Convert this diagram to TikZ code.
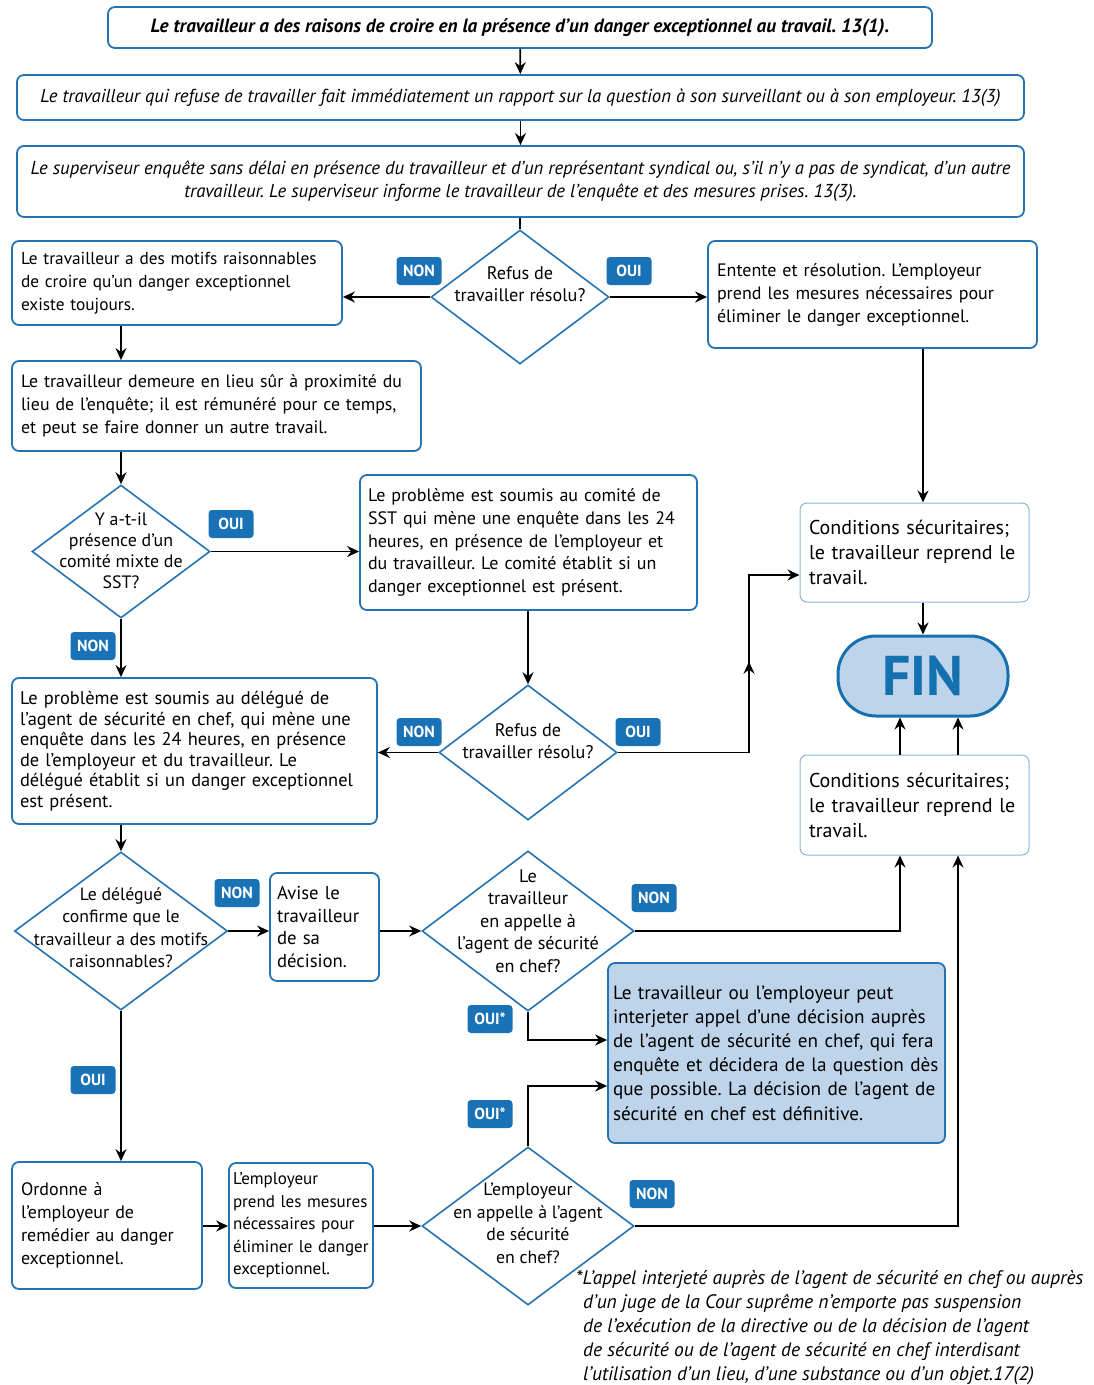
\documentclass[tikz,border=0pt]{standalone}
\usepackage{fontspec}
\setmainfont{PT Sans}
\usetikzlibrary{shapes.geometric,arrows.meta,calc,decorations.markings}
\definecolor{bblue}{HTML}{2673B3}
\definecolor{lblue}{HTML}{8BB4D8}
\definecolor{tblue}{HTML}{1A72B6}
\definecolor{fillb}{HTML}{BED4EA}
\definecolor{finb}{HTML}{1570B0}
\newcommand{\fs}[2]{\fontsize{#1}{#2}\selectfont}
\tikzset{
  box/.style={draw=bblue, line width=1.8pt, rounded corners=7pt, fill=white, inner ysep=0pt, inner xsep=9pt,
    font=\fs{18}{23}, align=left},
  cbox/.style={box, align=center, font=\fs{18.7}{23}\itshape},
  lbox/.style={box, draw=lblue, line width=1pt, font=\fs{20}{25}},
  dia/.style={diamond, draw=bblue, line width=1.6pt, inner sep=0pt, fill=white},
  dtext/.style={align=center, font=\fs{18}{22.5}, inner sep=0pt},
  tag/.style={fill=tblue, rounded corners=3.5pt, text=white, font=\fs{16}{16}\bfseries,
    minimum width=45pt, minimum height=28pt, inner sep=0pt},
  tip/.tip={Stealth[length=12pt,width=11pt,inset=4pt]},
  arr/.style={-tip, line width=1.7pt},
  ln/.style={line width=1.7pt},
}
\begin{document}
\frenchspacing
\begin{tikzpicture}[x=1pt,y=-1pt]
\useasboundingbox (0,0) rectangle (1094,1385);

% top boxes
\node[cbox, minimum width=824, minimum height=41, font=\fs{19.2}{23}\bfseries\itshape] (t1) at (520,27.5)
  {Le travailleur a des raisons de croire en la présence d’un danger exceptionnel au travail. 13(1).};
\node[cbox, minimum width=1007, minimum height=45] (t2) at (520.5,97.5)
  {Le travailleur qui refuse de travailler fait immédiatement un rapport sur la question à son surveillant ou à son employeur. 13(3)};
\node[cbox, minimum width=1007, minimum height=71] (t3) at (520.5,181.5)
  {Le superviseur enquête sans délai en présence du travailleur et d’un représentant syndical ou, s’il n’y a pas de syndicat, d’un autre\\
   travailleur. Le superviseur informe le travailleur de l’enquête et des mesures prises. 13(3).};

% diamonds
\node[dia, minimum width=178, minimum height=134] (d1) at (520,297) {};
\node[dtext, font=\fs{18.2}{22.5}] at (520,284) {Refus de\\travailler résolu?};
\node[dia, minimum width=178, minimum height=133] (d2) at (121,551.5) {};
\node[dtext, font=\fs{17.9}{21}] at (121,551) {Y a-t-il\\présence d’un\\comité mixte de\\SST?};
\node[dia, minimum width=178, minimum height=135] (d3) at (528,752.5) {};
\node[dtext, font=\fs{18.2}{22.5}] at (528,741) {Refus de\\travailler résolu?};
\node[dia, minimum width=213, minimum height=158] (d4) at (121,931) {};
\node[dtext, font=\fs{17.7}{22.5}] at (121,927.5) {Le délégué\\confirme que le\\travailleur a des motifs\\raisonnables?};
\node[dia, minimum width=212, minimum height=160] (d5) at (528,931) {};
\node[dtext, font=\fs{18.2}{22.5}] at (528,921) {Le\\travailleur\\en appelle à\\l’agent de sécurité\\en chef?};
\node[dia, minimum width=212, minimum height=158] (d6) at (528,1226) {};
\node[dtext, font=\fs{17.8}{22.5}] at (528,1223.5) {L’employeur\\en appelle à l’agent\\de sécurité\\en chef?};

% boxes
\node[box, minimum width=330, minimum height=84, text width=312, font=\fs{17.3}{23}] (A) at (177,283)
  {Le travailleur a des motifs raisonnables\\de croire qu’un danger exceptionnel\\existe toujours.};
\node[box, minimum width=329, minimum height=107, text width=311] (B) at (872.5,294.5)
  {Entente et résolution. L’employeur\\prend les mesures nécessaires pour\\éliminer le danger exceptionnel.};
\node[box, minimum width=409, minimum height=90, text width=391, font=\fs{17.8}{23}] (C) at (216.5,406)
  {Le travailleur demeure en lieu sûr à proximité du\\lieu de l’enquête; il est rémunéré pour ce temps,\\et peut se faire donner un autre travail.};
\node[box, minimum width=337, minimum height=135, text width=321, inner xsep=8pt, font=\fs{18}{22.8}] (D) at (528.5,542.5)
  {Le problème est soumis au comité de\\SST qui mène une enquête dans les 24\\heures, en présence de l’employeur et\\du travailleur. Le comité établit si un\\danger exceptionnel est présent.};
\node[lbox, minimum width=229, minimum height=99, text width=211] (F) at (914.5,552.5)
  {Conditions sécuritaires;\\le travailleur reprend le\\travail.};
\node[draw=finb, line width=3pt, fill=fillb, rounded corners=38pt, minimum width=170, minimum height=80,
  inner sep=0pt, text=finb, font=\fs{56}{56}\bfseries] (FIN) at (923,676) {FIN};
\node[lbox, minimum width=229, minimum height=100, text width=211] (G) at (914.5,805)
  {Conditions sécuritaires;\\le travailleur reprend le\\travail.};
\node[box, minimum width=365, minimum height=146, text width=349, inner xsep=8pt, font=\fs{18.4}{20.5}] (E) at (194.5,751)
  {Le problème est soumis au délégué de\\l’agent de sécurité en chef, qui mène une\\enquête dans les 24 heures, en présence\\de l’employeur et du travailleur. Le\\délégué établit si un danger exceptionnel\\est présent.};
\node[box, minimum width=109, minimum height=108, text width=95, inner xsep=7pt, font=\fs{18.7}{22.8}] (H) at (324.5,927)
  {Avise le\\travailleur\\de sa\\décision.};
\node[box, fill=fillb, minimum width=337, minimum height=180, text width=327, inner xsep=5pt, font=\fs{19.2}{24.2}] (I) at (776.5,1053)
  {Le travailleur ou l’employeur peut\\interjeter appel d’une décision auprès\\de l’agent de sécurité en chef, qui fera\\enquête et décidera de la question dès\\que possible. La décision de l’agent de\\sécurité en chef est définitive.};
\node[box, minimum width=190, minimum height=127, text width=172] (J) at (107,1225.5)
  {Ordonne à\\l’employeur de\\remédier au danger\\exceptionnel.};
\node[box, minimum width=144, minimum height=125, text width=136, inner xsep=4pt, font=\fs{17}{22.5}] (K) at (301,1225.5)
  {L’employeur\\prend les mesures\\nécessaires pour\\éliminer le danger\\exceptionnel.};

% footnote
\node[anchor=north west, align=left, inner sep=0pt, font=\fs{19.5}{24}\itshape] (fn) at (576,1270)
  {*L’appel interjeté auprès de l’agent de sécurité en chef ou auprès\\
   \hspace*{7pt}d’un juge de la Cour suprême n’emporte pas suspension\\
   \hspace*{7pt}de l’exécution de la directive ou de la décision de l’agent\\
   \hspace*{7pt}de sécurité ou de l’agent de sécurité en chef interdisant\\
   \hspace*{7pt}l’utilisation d’un lieu, d’une substance ou d’un objet.17(2)};

% helper coordinates
\coordinate (xa) at (900,0);
\coordinate (xb) at (958,0);
\coordinate (xr) at (749,0);

% connectors
\draw[arr] (t1) -- (t2);
\draw[arr] (t2.south) -- (t2.south |- t3.north);
\draw[ln] (t3.south -| d1) -- (d1.north);
\draw[arr] (d1.west) -- (A.east |- d1.west);
\draw[arr] (d1.east) -- (B.west |- d1.east);
\draw[arr] (A.south -| d2) -- (C.north -| d2);
\draw[arr] (C.south -| d2) -- (d2.north);
\draw[arr] (d2.east) -- (D.west |- d2.east);
\draw[arr] (d2.south) -- (E.north -| d2);
\draw[arr] (D.south -| d3) -- (d3.north);
\draw[arr] (d3.west) -- (E.east |- d3.west);
\draw[arr, postaction={decorate}, decoration={markings, mark=at position 222pt with {\arrow{tip}}}]
  (d3.east) -- (d3.east -| xr) |- ($(F.west)+(0,22.5)$);
\draw[arr] (B.south -| FIN) -- (F.north -| FIN);
\draw[arr] (F.south -| FIN) -- (FIN.north);
\draw[arr] (G.north -| xa) -- (FIN.south -| xa);
\draw[arr] (G.north -| xb) -- (FIN.south -| xb);
\draw[arr] (E.south -| d4) -- (d4.north);
\draw[arr] (d4.east) -- (H.west |- d4.east);
\draw[arr] (H.east |- d5.west) -- (d5.west);
\draw[arr] (d5.east) -| (G.south -| xa);
\draw[arr] (d5.south) |- ($(I.west)+(0,-13)$);
\draw[arr] (d6.north) |- ($(I.west)+(0,33)$);
\draw[arr] (d6.east) -| (G.south -| xb);
\draw[arr] (d4.south) -- (J.north -| d4);
\draw[arr] (J.east |- d6.west) -- (K.west |- d6.west);
\draw[arr] (K.east |- d6.west) -- (d6.west);

% tags
\node[tag] at (419,271) {NON};
\node[tag] at (629,271) {OUI};
\node[tag] at (231,524) {OUI};
\node[tag] at (93,646) {NON};
\node[tag] at (419,732) {NON};
\node[tag] at (638,732) {OUI};
\node[tag] at (237,893) {NON};
\node[tag] at (93,1080) {OUI};
\node[tag] at (654,898) {NON};
\node[tag] at (490,1019) {OUI*};
\node[tag] at (490,1114) {OUI*};
\node[tag] at (652,1194) {NON};
\end{tikzpicture}
\end{document}
